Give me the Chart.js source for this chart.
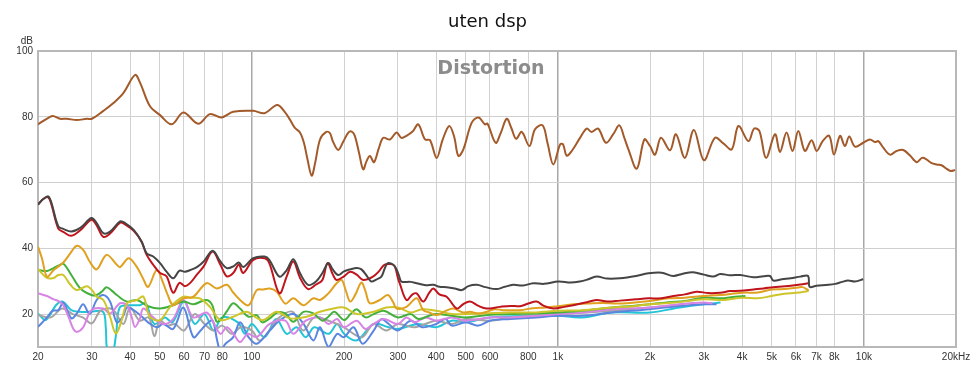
<!DOCTYPE html>
<html>
<head>
<meta charset="utf-8">
<title>uten dsp</title>
<script src="https://cdn.jsdelivr.net/npm/chart.js@4.4.1/dist/chart.umd.min.js"></script>
<style>
  body { margin: 0; background: #fff; }
  #chart { display: block; }
</style>
</head>
<body>
<canvas id="chart" width="975" height="366"></canvas>
<script>
// tick labels
const xTicks = [20, 30, 40, 50, 60, 70, 80, 100, 200, 300, 400, 500, 600, 800, 1000, 2000, 3000, 4000, 5000, 6000, 7000, 8000, 10000, 20000];
const yTicks = [20, 40, 60, 80, 100];
const decades = [100, 1000, 10000];

// fundamental (brown)
const fundFreq = [20, 21.9, 22.5, 23.6, 24.8, 26.8, 28.9, 30, 32.7, 35.2, 38, 41.5, 43.1, 46.4, 50.1, 54.7, 59.7, 66.8, 72.9, 79.6, 86.9, 101, 110, 121, 128, 133, 138, 143.6, 148, 152, 156.8, 161, 167, 175, 180, 184, 191.5, 199, 206.6, 212, 217, 224, 231, 237, 243, 250.6, 260, 268.8, 282.6, 297, 308, 320, 335, 349.7, 368, 382, 401.7, 420, 441.6, 458, 473, 491, 523, 549.8, 578, 589, 626, 650, 680.6, 705, 730, 762, 807, 842, 891.7, 925, 966, 1017, 1040, 1068, 1110, 1180, 1242, 1289, 1354, 1436, 1517, 1588, 1650, 1700, 1811, 1917, 2000, 2077, 2172, 2325, 2431, 2601, 2783, 3000, 3262, 3474, 3701, 3891, 4195, 4377, 4554, 4789, 5123, 5319, 5588, 5846, 6105, 6416, 6747, 7010, 7334, 7706, 7985, 8354, 8670, 8956, 9354, 9950, 10470, 10870, 11150, 11570, 12170, 12790, 13450, 14150, 14880, 15500, 16050, 16600, 17300, 18000, 18430, 19200, 19850];
const fundDb = [77.7, 80.0, 80.2, 79.4, 79.4, 79.0, 79.4, 79.4, 81.8, 84.1, 87.2, 92.7, 90.4, 83.3, 80.5, 77.7, 81.3, 77.9, 80.8, 79.8, 81.5, 81.8, 81.1, 83.6, 81.5, 79.2, 76.7, 75.2, 72, 67, 62.1, 66, 73.1, 75.4, 75.0, 72.5, 69.9, 72.5, 75.2, 75.5, 74.2, 69, 64.0, 66.5, 68.1, 66.2, 70.5, 73.6, 73.1, 75.2, 73.6, 74.2, 75.5, 77.7, 73.1, 72.9, 67.5, 73, 77.2, 74, 68.1, 70.1, 78.2, 79.8, 77.7, 77.9, 72.1, 75, 79.4, 76.5, 73.3, 75.4, 71.1, 76.2, 77.4, 72, 65.5, 71.6, 71.6, 68.2, 69.6, 73.5, 76.4, 75.4, 76.4, 72.1, 74.7, 77.4, 73.5, 70.1, 64.2, 73.1, 71.1, 68.5, 73.6, 69.8, 74.7, 67.5, 76.0, 66.8, 73.6, 71.9, 70.1, 77.2, 72.6, 76.4, 75.7, 67.5, 74.7, 69.3, 75.2, 69.6, 75.7, 69.6, 72.9, 69.6, 72.6, 74.2, 68.5, 74.2, 71.1, 74.0, 70.9, 72.1, 73.1, 72.3, 72.6, 70.6, 68.5, 69.6, 69.9, 68.2, 66.2, 67.5, 67.0, 66, 65.5, 65.2, 64.5, 63.5, 63.8];

// THD (dark gray)
const thdFreq = [20, 20.8, 21.6, 22.1, 23.3, 24.2, 25.7, 27.5, 29.9, 31.1, 32.7, 34.4, 37.1, 38.5, 41.1, 43.6, 45.3, 47.6, 50.1, 52.6, 55.3, 58, 60.4, 62.9, 66.1, 69.6, 74.4, 78.9, 82.8, 86.9, 90.6, 93.7, 101, 110, 114, 123, 130, 136.6, 143.7, 152.6, 162, 170, 177.8, 184, 191.5, 200, 209.6, 220, 228, 238, 245.5, 255, 265, 272, 278, 290, 297, 303, 308, 330, 345.5, 370, 392, 410, 433, 460, 485, 510, 543, 580, 629, 670, 714, 770, 830, 900, 1004, 1100, 1179, 1250, 1337, 1450, 1596, 1800, 1975, 2183, 2382, 2560, 2768, 3000, 3220, 3391, 3650, 3944, 4355, 4700, 4934, 5060, 5400, 5766, 6200, 6570, 6650, 6995, 7660, 8060, 8500, 8870, 9350, 9950];
const thdDb = [53.3, 55.0, 55.8, 54.0, 46.7, 45.9, 45.1, 46.2, 49.2, 47.7, 44.6, 45.1, 48.2, 47.7, 45.6, 42.1, 38.5, 37.5, 35.5, 32.9, 30.9, 33.2, 32.9, 33.4, 34.3, 36.0, 39.3, 36.0, 34.0, 34.5, 35.7, 34.3, 37.0, 37.5, 36.5, 31.4, 33.4, 36.7, 32.4, 28.9, 29.9, 32.5, 35.5, 33.5, 31.9, 33, 33.6, 34, 33.6, 31.5, 29.9, 30.5, 31.4, 34, 35.5, 35, 33.6, 31.5, 29.9, 29.8, 29.4, 28.8, 28.9, 28.3, 28.2, 27.8, 27.3, 28.5, 28.9, 28.2, 27.6, 28.3, 28.9, 28.7, 29.4, 29.2, 29.9, 29.6, 29.9, 30.5, 31.4, 30.8, 30.9, 31.6, 32.4, 32.6, 31.6, 32.3, 32.7, 32.0, 31.4, 32.2, 31.8, 31.9, 31.2, 31.5, 31.6, 30.2, 30.6, 30.9, 31.4, 31.6, 28.3, 28.6, 28.9, 29.2, 29.8, 30.2, 29.9, 30.6];

// 2nd harmonic (red)
const h2Freq = [20, 20.8, 21.6, 22.1, 23.3, 24.2, 25.7, 27.5, 29.9, 31.1, 32.7, 34.4, 37.1, 38.5, 41.1, 43.6, 45.3, 47.6, 50.1, 52.6, 55.3, 58, 60.4, 62.9, 66.1, 69.6, 74.4, 78.9, 82.8, 86.9, 90.6, 93.7, 101, 110, 114, 123, 130, 136.6, 143.7, 152.6, 162, 170, 176.6, 184, 189, 200, 209.6, 220, 231, 248.6, 260, 271, 285, 293, 300, 304, 320, 335, 345.5, 363, 380, 392, 410, 433, 467, 490, 516, 550, 585, 646, 700, 752, 800, 852, 900, 966, 1050, 1123, 1230, 1337, 1450, 1596, 1800, 1975, 2182, 2382, 2600, 2840, 3100, 3391, 3650, 3944, 4355, 4700, 5060, 5400, 5766, 6200, 6570];
const h2Db = [53.3, 55, 55.5, 53.5, 46, 45, 43.8, 45.5, 48.7, 47, 43.5, 44.5, 47.8, 47.3, 45.3, 42, 38, 35, 32.5, 31.5, 26.5, 29.5, 28.5, 29.5, 32, 34.5, 39, 35, 31.5, 32.5, 35, 32.5, 36.5, 37, 35.5, 26.3, 31.5, 36, 31, 27.6, 29, 30.4, 35.5, 32, 30.4, 31.5, 32.9, 32, 30.4, 31.4, 33, 35.0, 35.2, 34.5, 31, 29.4, 24.3, 26, 26.3, 23.8, 26.5, 27.8, 26, 25.3, 21.7, 23, 23.8, 22.5, 21.7, 22.2, 22.5, 22.4, 23.2, 23.8, 22.5, 21.7, 22.2, 22.7, 23.5, 24.3, 23.8, 24.1, 24.5, 24.8, 24.8, 25.5, 26, 26.8, 26.4, 26.5, 27, 27.1, 27.5, 27.8, 28.2, 28.4, 28.6, 29, 29.4];

// 3rd harmonic (orange)
const h3Freq = [20, 20.6, 21.4, 22.5, 24.2, 25.5, 26.8, 28.1, 29.5, 31.1, 33.5, 36.2, 37.1, 39.6, 42.1, 44, 45.8, 48.9, 51.3, 53, 55.3, 59.7, 64.4, 71.1, 76.7, 82.8, 87, 91.5, 97.5, 103.8, 109, 114.4, 120.6, 128.6, 136.6, 147.5, 158.8, 167, 177.8, 189.2, 196.6, 203, 209.6, 218, 228, 235, 243, 261.8, 278, 290, 297, 320, 345.5, 363, 380, 402, 430, 456, 490, 516, 550, 585, 620, 662, 752, 830, 918, 1000, 1123, 1250, 1406, 1550, 1722, 2000, 2300, 2600, 3000, 3400, 4000, 4500, 5000, 5500, 6000, 6300, 6600];
const h3Db = [40.5, 37, 31.4, 33.4, 35.7, 38.5, 40.8, 39.5, 36, 33.6, 38.0, 35.0, 34.3, 37.0, 34.3, 31, 28.3, 33.4, 29.4, 26, 22.7, 24.8, 25.3, 29.4, 27.8, 28.9, 26.5, 24.3, 22.7, 27.3, 27.5, 27.8, 26.8, 23.2, 24.8, 22.7, 24.8, 24.3, 26.3, 29.4, 30.4, 27, 23.8, 26, 29.6, 27, 23.3, 24.3, 25.8, 23.5, 21.7, 22.2, 24.8, 21.2, 20.5, 19.7, 21, 21.7, 20.5, 20.7, 20.2, 20.7, 21.5, 21.2, 21.2, 21.8, 22.0, 22.4, 23.0, 23.2, 23.4, 23.2, 23.4, 24, 24.8, 25, 25.5, 25.8, 26.5, 26.6, 27.5, 27.6, 28, 28.2, 27.2];

// 4th harmonic (yellow)
const h4Freq = [20, 21.4, 22.5, 23.3, 24.2, 25.5, 26.8, 28.9, 30.2, 31.1, 32.7, 34.4, 35.9, 37.5, 39.1, 42.1, 44.2, 46.4, 50.1, 54.1, 59.7, 63, 67.6, 72.9, 78.9, 86.9, 96.2, 103, 109, 120.6, 133, 150.8, 167, 180, 200, 220, 250, 275, 300, 330, 360, 400, 450, 500, 600, 700, 850, 1000, 1200, 1500, 1800, 2000, 2400, 3000, 3500, 4000, 4500, 5000, 5500, 6000, 6600];
const h4Db = [33.7, 31, 31, 31.9, 31.9, 29, 27.3, 28.5, 27, 25.3, 24.3, 19.2, 14.1, 18, 23.3, 24.3, 25.3, 19.2, 18.2, 22.2, 25.3, 25, 24.8, 22.2, 18.2, 19.2, 20.7, 19, 18.2, 20.7, 18.7, 19.2, 20.7, 21.5, 22, 20, 20.7, 22, 22, 20.5, 21.5, 21, 20, 20, 20.3, 20.5, 20.5, 21, 21.2, 22, 22.5, 23, 23.5, 24.5, 24.3, 25, 24.8, 25.5, 26.2, 26.5, 27];

// 5th harmonic (green)
const h5Freq = [20, 21.4, 22.5, 23.3, 24.2, 25.7, 27.5, 29.9, 31.1, 32.5, 33.5, 35, 36.2, 39.1, 42.1, 45.8, 50.1, 55.3, 59.7, 64.4, 71.1, 74.4, 76.5, 79, 83, 86.9, 91.5, 97.5, 103.8, 108, 114.4, 121, 128.6, 136.6, 147.5, 158.8, 170, 177.8, 186, 200, 210, 220, 235, 250, 270, 300, 330, 350, 380, 400, 450, 500, 600, 700, 850, 1000, 1250, 1500, 1750, 2000, 2300, 2600, 3000, 3400, 3800, 4100];
const h5Db = [33.4, 33.1, 34, 34.7, 35.3, 31.9, 27.8, 25.8, 25.8, 27, 28.2, 27, 25.8, 23.8, 24.3, 22.4, 21.7, 22.7, 23.8, 23, 24.3, 22.5, 17.8, 18.2, 21, 23.3, 21.7, 19.2, 19.7, 17.5, 18.7, 20.5, 20.2, 17.7, 20.7, 20.2, 18, 19.2, 20.7, 18.2, 20, 21.5, 19, 20, 21, 19, 20, 18.5, 19.5, 20, 19.5, 19, 19.8, 20, 20.2, 20.5, 21.2, 22, 22.5, 23, 23.6, 24, 25, 24.8, 25.3, 25.5];

// 6th harmonic (violet)
const h6Freq = [20, 21.4, 22.5, 23.3, 24.2, 25.2, 26.1, 26.8, 28.1, 29.9, 32.7, 34.4, 37.1, 39.1, 40.5, 41.5, 43, 44.2, 47.6, 51.3, 55.3, 59.7, 64.4, 71.1, 74.4, 78.9, 82.8, 87, 91.5, 97, 103.8, 114.4, 128.6, 136.6, 150, 167, 178, 190, 200, 220, 235, 250, 270, 300, 320, 340, 370, 400, 450, 500, 600, 700, 850, 1000, 1200, 1500, 2000, 2500, 3000, 3200];
const h6Db = [26.3, 25.5, 24.5, 24, 22.7, 19, 15.5, 14.6, 16, 21.2, 21.7, 20.2, 23.3, 22.7, 19, 16.1, 18.5, 21.7, 19, 17, 18.5, 24.3, 19, 20.5, 18, 14, 16, 14, 11.5, 14, 13, 17, 18, 14, 18, 19, 17, 18.5, 16, 18, 15.5, 17, 18.5, 17, 19, 17.5, 19, 18, 19, 18, 19, 19, 19.5, 20, 20.5, 21.5, 22, 23, 23.5, 23.3];

// 7th harmonic (blue)
const h7Freq = [20, 21.4, 22.3, 23.3, 24.2, 25.7, 26.8, 28.1, 29.5, 31.1, 32.7, 34.4, 36.2, 38, 39.1, 42.1, 45.8, 48.9, 51.3, 55.3, 59.7, 64.4, 68, 71.1, 74.4, 77, 78.9, 82, 86.9, 91.5, 97.5, 103.8, 114.4, 123, 136.6, 147.5, 158.8, 167, 178, 190, 200, 215, 230, 250, 265, 280, 300, 330, 360, 400, 430, 450, 500, 550, 600, 700, 850, 1000, 1200, 1500, 2000, 2500, 3000, 3300];
const h7Db = [16.1, 19, 21, 21.2, 23.5, 18.7, 20.2, 23, 20, 24.3, 25.8, 23.8, 17.5, 19.5, 22, 20.5, 17.5, 16, 17, 15.5, 22, 13, 15, 17, 18, 12, 9, 11, 13, 17.5, 13, 11, 15, 18, 20, 17, 12, 16, 10, 14, 13, 16, 11, 15, 18.5, 17, 15, 18, 16, 17, 18.5, 16.5, 17.5, 16.5, 18, 18.5, 19, 19.5, 19.5, 20.5, 21.5, 22.5, 23, 23];

// 8th harmonic (gray)
const h8Freq = [20, 22, 24, 26, 28, 30, 32, 35, 38, 40, 43, 46, 48, 50, 53, 56, 60, 65, 70, 75, 80, 86, 92, 100, 106, 114, 123, 136, 147, 160, 178, 200, 215, 230, 250, 275, 300, 340, 400, 450, 500, 600, 700, 850, 1000, 1250, 1500, 2000, 2300, 2600];
const h8Db = [19.7, 19, 21.7, 20, 19, 17.2, 21, 21.5, 17, 22, 18, 19, 13.3, 18, 16.5, 17, 15, 20, 17, 15, 16.5, 14, 16, 15, 12, 15, 19, 20.7, 15, 19, 18, 16, 14, 13, 17, 15, 17, 16, 18, 17, 18.5, 18, 19, 19.5, 20, 20.5, 21, 22, 22.5, 23];

// 9th harmonic (cyan)
const h9Freq = [20, 21.2, 22.9, 24.1, 25.7, 27.3, 29.4, 32.6, 33.3, 33.7, 35, 36, 37, 40, 43, 45, 48, 52, 55, 60, 65, 70, 75, 80, 90, 95, 100, 110, 120, 130, 140, 150, 160, 178, 190, 200, 220, 250, 280, 300, 350, 400, 450, 500, 600, 800, 1000, 1200, 1500, 2000, 2500, 3000, 3400];
const h9Db = [20.2, 18.2, 22.7, 23.8, 21.2, 20.7, 20.7, 20.7, 16, 9, 8, 14, 22, 22.7, 22.7, 23.3, 17, 19, 17.5, 23.8, 17, 20, 15, 19, 17.5, 14, 17, 13, 18.5, 14, 16, 13, 16, 14, 17, 14, 12, 17, 16, 15.5, 17, 16, 18, 17.5, 19, 19.5, 19.5, 19, 20.5, 20.5, 22, 23, 23.5];

const pts = (f, d) => f.map((x, i) => ({ x: x, y: d[i] }));

const series = [
  { f: fundFreq, d: fundDb, c: "#a35a2a" },
  { f: thdFreq, d: thdDb, c: "#454545" },
  { f: h2Freq, d: h2Db, c: "#c0141c" },
  { f: h3Freq, d: h3Db, c: "#e0a020" },
  { f: h4Freq, d: h4Db, c: "#cdc52a" },
  { f: h5Freq, d: h5Db, c: "#44b03c" },
  { f: h6Freq, d: h6Db, c: "#d884e4" },
  { f: h7Freq, d: h7Db, c: "#5a86e0" },
  { f: h8Freq, d: h8Db, c: "#a4a4a4" },
  { f: h9Freq, d: h9Db, c: "#22c4d8" },
];

const fmtHz = (v) => {
  if (v === 20000) return "20kHz";
  return v >= 1000 ? v / 1000 + "k" : String(v);
};

// title, "Distortion" watermark, dB unit and plot frame
const decor = {
  id: "decor",
  beforeDatasetsDraw(chart) {
    const { ctx, chartArea: a } = chart;
    ctx.save();
    ctx.strokeStyle = "#b8b8b8";
    ctx.lineWidth = 2;
    ctx.strokeRect(a.left, a.top, a.right - a.left, a.bottom - a.top);
    ctx.fillStyle = "#8c8c8c";
    ctx.font = "bold 19px 'DejaVu Sans'";
    ctx.textAlign = "center";
    ctx.fillText("Distortion", (a.left + a.right) / 2 - 6, a.top + 23);
    ctx.restore();
  },
  afterDraw(chart) {
    const { ctx, chartArea: a } = chart;
    ctx.save();
    ctx.fillStyle = "#111";
    ctx.font = "18px 'DejaVu Sans'";
    ctx.textAlign = "center";
    ctx.fillText("uten dsp", chart.width / 2, 27);
    ctx.fillStyle = "#333";
    ctx.font = "10px 'Liberation Sans'";
    ctx.textAlign = "right";
    ctx.fillText("dB", a.left - 5, a.top - 7);
    ctx.restore();
  },
};

new Chart(document.getElementById("chart"), {
  type: "line",
  data: {
    datasets: series.map((s) => ({
      data: pts(s.f, s.d),
      borderColor: s.c,
      borderWidth: 2,
      pointRadius: 0,
      tension: 0.35,
      fill: false,
    })),
  },
  options: {
    responsive: false,
    animation: false,
    events: [],
    layout: { padding: { top: 51, right: 19, left: 0, bottom: 0 } },
    plugins: { legend: { display: false }, tooltip: { enabled: false } },
    scales: {
      x: {
        type: "logarithmic",
        min: 20,
        max: 20000,
        afterBuildTicks: (axis) => {
          axis.ticks = xTicks.map((v) => ({ value: v }));
        },
        afterFit: (axis) => {
          axis.height = 19;
        },
        ticks: {
          callback: (v) => fmtHz(v),
          autoSkip: false,
          maxRotation: 0,
          padding: 4,
          color: "#333",
          font: { family: "'Liberation Sans'", size: 10 },
        },
        grid: {
          drawTicks: false,
          color: (c) => (c.tick && decades.includes(c.tick.value) ? "#a8a8a8" : "#d2d2d2"),
          lineWidth: (c) => (c.tick && decades.includes(c.tick.value) ? 1.5 : 1),
        },
        border: { display: false },
      },
      y: {
        min: 10,
        max: 100,
        afterBuildTicks: (axis) => {
          axis.ticks = yTicks.map((v) => ({ value: v }));
        },
        afterFit: (axis) => {
          axis.width = 38;
        },
        ticks: {
          padding: 5,
          color: "#333",
          font: { family: "'Liberation Sans'", size: 10 },
        },
        grid: { drawTicks: false, color: "#cfcfcf" },
        border: { display: false },
      },
    },
  },
  plugins: [decor],
});
</script>
</body>
</html>
